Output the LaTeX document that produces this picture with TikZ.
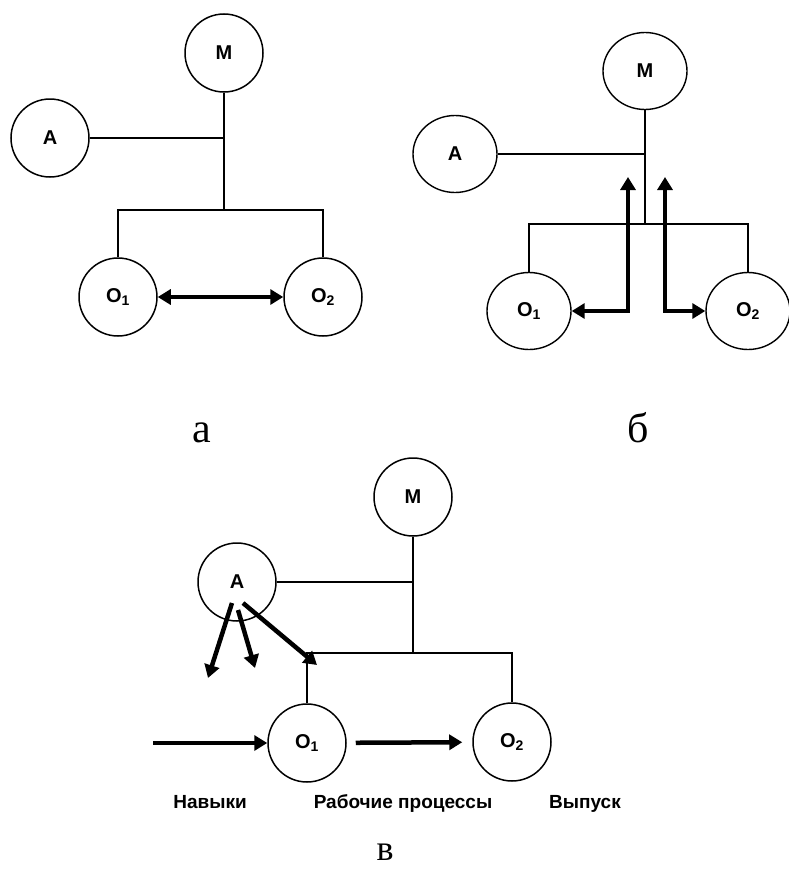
\documentclass[tikz,border=0pt]{standalone}
\usepackage{fontspec}
\setmainfont{Liberation Serif}
\setsansfont{Liberation Sans}
\usepackage{tikz}
\usetikzlibrary{positioning,arrows.meta,calc,shapes.geometric}

\begin{document}
\begin{tikzpicture}[x=1pt,y=-1pt,
    unit/.style={circle,draw,line width=1.5pt,minimum size=78pt,inner sep=0pt,
      font=\sffamily\bfseries\fontsize{20}{20}\selectfont},
    oval/.style={ellipse,draw,line width=1.4pt,minimum width=84pt,minimum height=77pt,
      inner sep=0pt,font=\sffamily\bfseries\fontsize{20}{20}\selectfont},
    link/.style={line width=1.5pt},
    flow/.style={line width=4.5pt,-{Triangle[length=13pt,width=15pt]}},
    flowboth/.style={line width=4.5pt,{Triangle[length=13pt,width=15pt]}-{Triangle[length=13pt,width=15pt]}},
    tag/.style={font=\fontsize{42}{42}\selectfont,inner sep=0pt,anchor=base},
    caption/.style={font=\sffamily\bfseries\fontsize{19}{19}\selectfont,anchor=base}]
  \useasboundingbox (0,0) rectangle (789,870);

  \node[unit] (Ma) at (224,53) {M};
  \node[unit] (Aa) at (50,138) {A};
  \node[unit] (O1a) at (118,297) {O\textsubscript{1}};
  \node[unit] (O2a) at (323,297) {O\textsubscript{2}};
  \coordinate (busA) at (224,210);
  \draw[link] (Aa.east) -- (Aa.east -| Ma.south);
  \draw[link] (Ma.south) -- (busA);
  \draw[link] (O1a.north) |- (busA) -| (O2a.north);
  \draw[flowboth] (O1a) -- (O2a);
  \node[tag] (capA) at (202,442) {а};

  \node[oval] (Mb) at (645,71) {M};
  \node[oval] (Ab) at (455,154) {A};
  \node[oval] (O1b) at (529,311) {O\textsubscript{1}};
  \node[oval] (O2b) at (748,311) {O\textsubscript{2}};
  \coordinate (busB) at (645,224);
  \coordinate (upL) at (628,177);
  \coordinate (upR) at (665,177);
  \draw[link] (Ab.east) -- (Ab.east -| Mb.south);
  \draw[link] (Mb.south) -- (busB);
  \draw[link] (O1b.north) |- (busB) -| (O2b.north);
  \draw[flowboth] (O1b.east) -| (upL);
  \draw[flowboth] (upR) |- (O2b.west);
  \node[tag] (capB) at (638,442) {б};

  \node[unit] (Mc) at (413,497) {M};
  \node[unit] (Ac) at (237,582) {A};
  \node[unit] (O1c) at (307,743) {O\textsubscript{1}};
  \node[unit] (O2c) at (512,742) {O\textsubscript{2}};
  \coordinate (busC) at (413,653);
  \coordinate (inC) at (153,743);
  \coordinate (skillL) at (208,678);
  \coordinate (skillR) at (255,668);
  \coordinate (toBus) at (317,665);
  \draw[link] (Ac.east) -- (Ac.east -| Mc.south);
  \draw[link] (Mc.south) -- (busC);
  \draw[link] (O1c.north) |- (busC) -| (O2c.north);
  \draw[flow] (inC) -- (O1c.west);
  \draw[flow,shorten <=9pt,shorten >=10pt] (O1c) -- (O2c);
  \draw[flow] ([shift={(-5,21)}]Ac.center) -- (skillL);
  \draw[flow] ([shift={(1,28)}]Ac.center) -- (skillR);
  \draw[flow] ([shift={(6,21)}]Ac.center) -- (toBus);
  \node[caption] (capSkills) at (210,808) {Навыки};
  \node[caption] (capWork) at (403,808) {Рабочие процессы};
  \node[caption] (capOut) at (585,808) {Выпуск};
  \node[tag,font=\fontsize{36}{36}\selectfont] (capC) at (385,860) {в};
\end{tikzpicture}
\end{document}
